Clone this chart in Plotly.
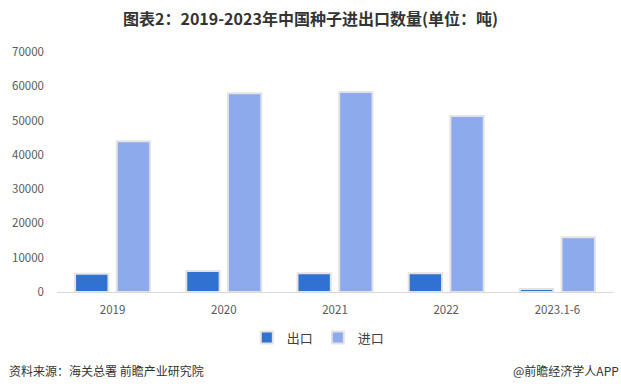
import plotly.graph_objects as go

categories = ["2019", "2020", "2021", "2022", "2023.1-6"]
export_vals = [5300, 6100, 5500, 5500, 900]
import_vals = [44000, 58000, 58300, 51300, 16000]
y_ticks = [0, 10000, 20000, 30000, 40000, 50000, 60000, 70000]

FONT = "Noto Sans CJK SC, Microsoft YaHei, sans-serif"

fig = go.Figure()
fig.add_trace(go.Bar(name="出口", x=categories, y=export_vals,
                     marker=dict(color="#2F72CF", line=dict(color="#E3E3E3", width=2))))
fig.add_trace(go.Bar(name="进口", x=categories, y=import_vals,
                     marker=dict(color="#8DAAEC", line=dict(color="#E3E3E3", width=2))))

fig.update_layout(
    width=621, height=391,
    margin=dict(l=57, r=8, t=52, b=99),
    paper_bgcolor="white", plot_bgcolor="white",
    barmode="group", bargap=0.25, bargroupgap=0.2,
    font=dict(family=FONT, color="#595959", size=11),
    title=dict(text="<b>图表2：2019-2023年中国种子进出口数量(单位：吨)</b>",
               xref="container", x=0.5, xanchor="center", y=0.95, yanchor="middle",
               font=dict(size=16, color="#333333", family=FONT)),
    showlegend=True,
    legend=dict(orientation="h", x=0.47, xanchor="center", y=-0.19, yanchor="middle",
                font=dict(size=13, color="#404040"), itemwidth=30, traceorder="normal"),
    xaxis=dict(showline=True, linecolor="#D9D9D9", linewidth=1, ticks="",
               tickfont=dict(size=11.5, color="#595959"), showgrid=False,
               ticklabelstandoff=7),
    yaxis=dict(range=[0, 70000], tickvals=y_ticks, ticktext=[str(v) for v in y_ticks],
               showgrid=False, showline=False,
               zeroline=False, tickfont=dict(size=11.5, color="#595959"), ticks="",
               ticklabelstandoff=12),
)

fig.add_annotation(text="资料来源：海关总署 前瞻产业研究院", xref="paper", yref="paper",
                   x=-0.09, xanchor="left", y=-0.325, yanchor="middle", showarrow=False,
                   font=dict(size=12, color="#333333", family=FONT))
fig.add_annotation(text="@前瞻经济学人APP", xref="paper", yref="paper",
                   x=1.0, xanchor="right", y=-0.325, yanchor="middle", showarrow=False,
                   font=dict(size=12, color="#333333", family=FONT), xshift=8)

fig.write_html("out.html")
